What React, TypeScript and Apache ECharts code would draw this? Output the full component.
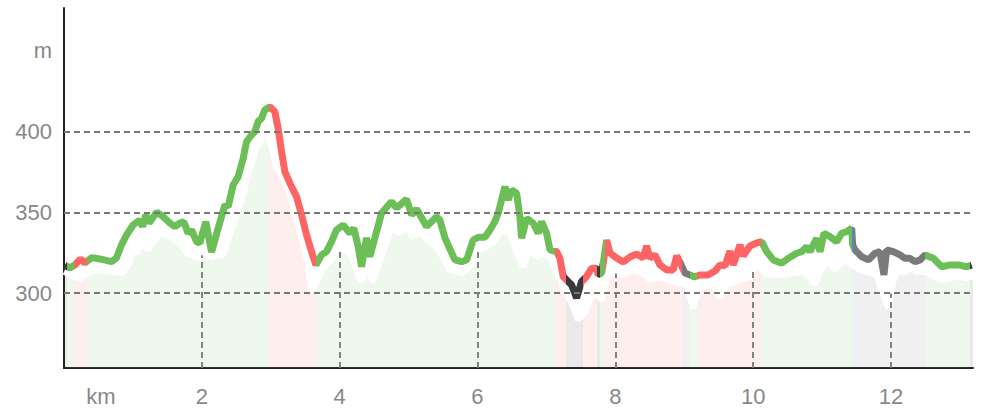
import React, { useEffect, useRef } from "react";
import * as echarts from "echarts";

// Elevation track (coloured line): distance in km, elevation in m
const trackKm = [
  0.012, 0.084, 0.157, 0.24, 0.302, 0.4, 0.52, 0.69, 0.76, 0.835, 0.907, 1.003, 1.1, 1.14, 1.187, 1.235,
  1.343, 1.438, 1.536, 1.608, 1.681, 1.739, 1.801, 1.851, 1.923, 1.971, 2.058, 2.141, 2.237, 2.334, 2.382,
  2.454, 2.527, 2.6, 2.649, 2.721, 2.769, 2.817, 2.866, 2.914, 2.987, 3.059, 3.107, 3.157, 3.205, 3.277,
  3.374, 3.447, 3.52, 3.592, 3.655, 3.737, 3.81, 3.882, 3.955, 4.051, 4.148, 4.206, 4.269, 4.318, 4.39,
  4.438, 4.608, 4.753, 4.826, 4.971, 5.044, 5.116, 5.261, 5.406, 5.454, 5.527, 5.672, 5.769, 5.842, 5.938,
  6.01, 6.107, 6.18, 6.252, 6.3, 6.373, 6.398, 6.446, 6.495, 6.568, 6.615, 6.64, 6.713, 6.808, 6.881, 6.93,
  7.003, 7.051, 7.148, 7.196, 7.244, 7.293, 7.366, 7.438, 7.51, 7.583, 7.655, 7.727, 7.751, 7.8, 7.824,
  7.874, 7.922, 8.019, 8.115, 8.212, 8.309, 8.405, 8.454, 8.502, 8.575, 8.647, 8.745, 8.84, 8.89, 8.962,
  9.01, 9.083, 9.141, 9.228, 9.344, 9.446, 9.518, 9.591, 9.664, 9.711, 9.808, 9.856, 9.953, 10.051, 10.123,
  10.196, 10.292, 10.414, 10.51, 10.631, 10.704, 10.777, 10.825, 10.897, 10.922, 10.97, 11.027, 11.115,
  11.212, 11.284, 11.357, 11.43, 11.444, 11.478, 11.575, 11.671, 11.768, 11.84, 11.898, 11.937, 12.033,
  12.13, 12.203, 12.275, 12.348, 12.421, 12.494, 12.614, 12.736, 12.857, 12.978, 13.1, 13.17,
];
const trackElev = [
  317.5, 315.6, 317.5, 321.2, 318.7, 322.0, 321.2, 319.5, 321.8, 329.9, 336.0, 342.2, 345.3, 341.2, 348.4, 343.4,
  350.1, 347.3, 343.4, 341.2, 343.4, 344.1, 337.1, 339.1, 331.9, 331.1, 344.3, 325.5, 340.2, 354.6, 353.5,
  366.9, 372.1, 383.4, 393.7, 397.8, 399.9, 406.1, 408.2, 413.3, 415.3, 412.2, 402.0, 387.5, 375.2, 368.0,
  359.7, 348.4, 336.0, 325.7, 317.5, 323.7, 325.7, 331.9, 339.1, 342.2, 337.1, 340.2, 328.8, 316.4, 334.2,
  322.6, 349.6, 356.6, 352.7, 358.1, 348.4, 352.1, 341.2, 347.3, 345.3, 334.2, 320.6, 319.5, 320.6, 332.9,
  334.6, 334.6, 339.1, 344.3, 349.4, 361.8, 365.9, 357.7, 363.8, 361.8, 347.3, 334.0, 346.4, 343.3, 337.1, 344.3,
  337.1, 326.8, 325.7, 321.6, 310.3, 308.2, 305.1, 297.0, 307.2, 310.3, 315.5, 315.5, 311.3, 312.4, 318.5,
  332.9, 324.9, 321.8, 319.3, 322.4, 324.3, 321.8, 329.2, 321.8, 323.7, 317.5, 314.4, 314.4, 323.1, 316.9,
  312.5, 311.3, 310.1, 311.3, 311.3, 313.8, 317.5, 316.9, 326.1, 317.5, 329.9, 323.1, 329.2, 331.1, 331.9,
  325.7, 320.6, 318.5, 321.6, 324.7, 325.7, 328.8, 325.7, 331.9, 334.0, 325.7, 337.1, 335.0,
  331.9, 337.1, 338.1, 340.2, 329.9, 326.8, 322.6, 320.6, 324.7, 325.7, 311.3, 326.8, 325.7,
  323.7, 321.6, 321.6, 319.5, 320.6, 323.7, 321.6, 316.4, 317.5, 317.5, 316.4, 317.5,
];

// Lower profile (white edge of the shaded area)
const groundKm = [
  0, 0.23, 0.374, 0.52, 0.694, 0.853, 0.955, 0.999, 1.052, 1.144, 1.216, 1.39, 1.536, 1.705, 1.778, 1.942,
  2.044, 2.141, 2.31, 2.406, 2.504, 2.6, 2.697, 2.794, 2.89, 2.939, 2.987, 3.084, 3.18, 3.325, 3.422, 3.52,
  3.592, 3.665, 3.761, 3.858, 3.955, 4.028, 4.1, 4.173, 4.245, 4.318, 4.409, 4.482, 4.627, 4.753, 4.874,
  4.99, 5.044, 5.164, 5.406, 5.6, 5.788, 5.933, 6.006, 6.107, 6.223, 6.325, 6.441, 6.659, 6.76, 6.862,
  7.007, 7.094, 7.239, 7.385, 7.457, 7.558, 7.631, 7.703, 7.805, 7.878, 7.965, 8.11, 8.255, 8.4, 8.5,
  8.647, 8.836, 9.039, 9.126, 9.228, 9.417, 9.518, 9.62, 9.809, 9.953, 10.055, 10.099, 10.171, 10.287,
  10.432, 10.577, 10.722, 10.824, 10.897, 10.994, 11.115, 11.187, 11.332, 11.43, 11.55, 11.695, 11.792,
  11.865, 11.96, 12.033, 12.106, 12.179, 12.275, 12.372, 12.494, 12.614, 12.736, 12.857, 12.978, 13.1, 13.19,
];
const groundElev = [
  313.3, 308.8, 313.2, 314.4, 313.2, 312.5, 319.3, 328.0, 324.9, 331.1, 326.8, 337.3, 335.4, 329.9, 324.9, 321.8,
  324.9, 322.6, 323.7, 336.0, 348.4, 360.8, 377.3, 389.6, 395.8, 399.9, 393.7, 377.3, 371.1, 354.6, 338.1, 321.8,
  300.8, 307.2, 315.5, 319.5, 325.7, 327.8, 325.7, 322.6, 313.3, 307.2, 316.3, 307.0, 324.9, 340.4, 337.3,
  341.0, 334.8, 337.3, 328.6, 314.4, 312.5, 318.7, 326.8, 328.0, 331.1, 337.3, 339.1, 316.3, 326.8, 322.4,
  324.9, 318.7, 303.9, 291.5, 283.5, 287.8, 295.9, 300.2, 295.9, 310.1, 312.5, 311.3, 314.4, 312.5, 308.2,
  310.1, 307.0, 305.1, 290.9, 303.9, 305.1, 297.1, 305.1, 308.2, 310.1, 318.7, 315.6, 312.5, 311.3,
  311.3, 312.5, 313.2, 310.1, 305.1, 315.6, 319.5, 314.4, 320.6, 317.5, 314.4, 312.5, 311.3,
  301.0, 290.9, 307.2, 315.5, 312.5, 315.5, 313.3, 313.3, 310.3, 308.2, 309.3, 310.3, 309.3, 310.3,
];

// Surface segments: start (km) and kind
const segmentStartKm = [
  0, 0.05, 0.15, 0.33, 2.97, 3.66, 7.12, 7.29, 7.53, 7.74, 7.77, 7.85, 8.97, 9.09, 9.18, 10.11, 11.43, 11.465, 12.49, 13.14,
];
const segmentKind = [
  "dark", "green", "red", "green", "red", "green", "red", "dark", "red", "dark", "green", "red", "gray", "green", "red",
  "green", "blue", "gray", "green", "dark",
];

const yGridValues = [300, 350, 400];
const yLabelValues = [300, 350, 400, 450];
const xGridKm = [2, 4, 6, 8, 10, 12];

const X_MIN = 0;
const X_MAX = 13.19;
const Y_MIN = 253.8;
const Y_MAX = 476.3;

const KIND_COLOR: Record<string, string> = {
  green: "#6cbf56",
  red: "#ff6464",
  dark: "#3a3a3a",
  gray: "#7a7a7a",
  blue: "#5b86c6",
};

const FONT = "'Liberation Sans', Arial, sans-serif";
const LABEL_COLOR = "#888888";

function valueAt(xs: number[], ys: number[], x: number): number {
  if (x <= xs[0]) return ys[0];
  for (let i = 1; i < xs.length; i++) {
    if (x <= xs[i]) {
      const t = (x - xs[i - 1]) / (xs[i] - xs[i - 1]);
      return ys[i - 1] + t * (ys[i] - ys[i - 1]);
    }
  }
  return ys[ys.length - 1];
}

export default function App() {
  const ref = useRef<HTMLDivElement>(null);

  useEffect(() => {
    if (!ref.current) return;
    const chart = echarts.init(ref.current, undefined, { renderer: "svg" });

    const track = trackKm.map((k, i) => [k, trackElev[i]]);
    const ground = groundKm.map((k, i) => [k, groundElev[i]]);

    const pieces = segmentStartKm.map((s, i) => ({
      gte: i === 0 ? -100 : s,
      lt: i < segmentStartKm.length - 1 ? segmentStartKm[i + 1] : 100,
      color: KIND_COLOR[segmentKind[i]],
    }));

    const gridLines: any[] = [
      ...yGridValues.map((v) => ({ yAxis: v })),
      ...xGridKm.map((k) => [
        { coord: [k, Y_MIN] },
        { coord: [k, valueAt(groundKm, groundElev, k)] },
      ]),
    ];

    chart.setOption({
      animation: false,
      textStyle: { fontFamily: FONT },
      grid: { left: 64, right: 9, top: 8, bottom: 40, containLabel: false, outerBoundsMode: "none" },
      xAxis: {
        type: "value",
        min: X_MIN,
        max: X_MAX,
        interval: 2,
        axisLine: { show: true, lineStyle: { color: "#222222", width: 2 } },
        axisTick: { show: false },
        splitLine: { show: false },
        axisLabel: {
          color: LABEL_COLOR,
          fontSize: 22,
          fontFamily: FONT,
          margin: 17,
          showMaxLabel: false,
          formatter: (v: number) => (v === 0 ? "{k|km}" : String(v)),
          rich: {
            k: { color: LABEL_COLOR, fontSize: 22, fontFamily: FONT, padding: [0, 0, 0, 74] },
          },
        },
      },
      yAxis: {
        type: "value",
        min: Y_MIN,
        max: Y_MAX,
        axisLine: { show: true, lineStyle: { color: "#222222", width: 2 } },
        axisTick: { show: false },
        splitLine: { show: false },
        axisLabel: {
          color: LABEL_COLOR,
          fontSize: 22,
          fontFamily: FONT,
          margin: 12,
          customValues: yLabelValues,
          formatter: (v: number) => (v === 450 ? "m" : String(v)),
        },
      },
      visualMap: [
        {
          type: "piecewise",
          show: false,
          dimension: 0,
          seriesIndex: [1, 2],
          pieces,
        },
      ],
      series: [
        {
          type: "line",
          z: 1,
          silent: true,
          data: ground,
          symbol: "none",
          lineStyle: { opacity: 0, width: 0 },
          markLine: {
            silent: true,
            symbol: "none",
            label: { show: false },
            lineStyle: { type: [6, 4], color: "#777777", width: 1.8 },
            data: gridLines,
          },
        },
        {
          type: "line",
          z: 2,
          silent: true,
          data: ground,
          symbol: "none",
          showSymbol: false,
          lineStyle: { color: "#ffffff", width: 6 },
          areaStyle: { opacity: 0.11 },
        },
        {
          type: "line",
          z: 3,
          silent: true,
          data: track,
          symbol: "none",
          showSymbol: false,
          lineStyle: { width: 7 },
        },
      ],
    });

    return () => chart.dispose();
  }, []);

  return (
    <div
      ref={ref}
      style={{ position: "fixed", left: 0, top: 0, width: 982, height: 408, background: "#ffffff" }}
    />
  );
}
